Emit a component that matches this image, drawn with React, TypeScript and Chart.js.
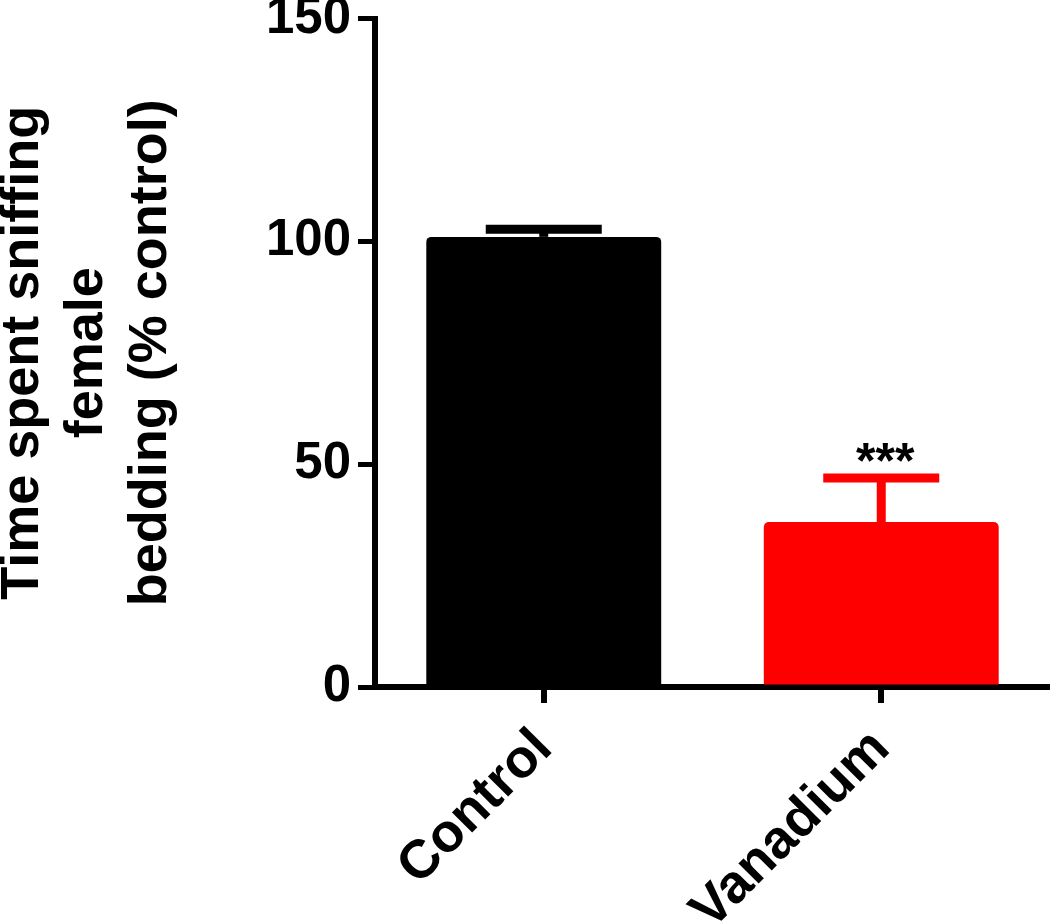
import React, { useEffect, useRef } from 'react';
import { Chart, registerables } from 'chart.js';

Chart.register(...registerables);

const categories = ['Control', 'Vanadium'];
const meanValues = [101, 37];
const errorTops = [102.7, 46.9];
const significance = ['', '***'];
const barColors = ['#000000', '#ff0000'];
const yTickValues = [0, 50, 100, 150];
const yTitleLines = ['Time spent sniffing', 'female', 'bedding (% control)'];

const FONT = '"Liberation Sans", Arial, Helvetica, sans-serif';

export default function App() {
  const ref = useRef<HTMLCanvasElement>(null);

  useEffect(() => {
    if (!ref.current) return;
    const errorPlugin = {
      id: 'errorBars',
      afterDatasetsDraw(chart: any) {
        const { ctx, scales } = chart;
        const x = scales.x;
        const y = scales.y;
        ctx.save();
        meanValues.forEach((v, i) => {
          const cx = x.getPixelForValue(i);
          const yb = y.getPixelForValue(v);
          const yt = y.getPixelForValue(errorTops[i]);
          ctx.strokeStyle = barColors[i];
          ctx.lineWidth = 9;
          ctx.lineCap = 'butt';
          ctx.beginPath();
          ctx.moveTo(cx, yb);
          ctx.lineTo(cx, yt);
          ctx.stroke();
          ctx.beginPath();
          ctx.moveTo(cx - 58, yt);
          ctx.lineTo(cx + 58, yt);
          ctx.stroke();
          if (significance[i]) {
            ctx.fillStyle = '#000';
            ctx.font = `bold 50px ${FONT}`;
            ctx.textAlign = 'center';
            ctx.textBaseline = 'alphabetic';
            ctx.fillText(significance[i], cx + 4, yt);
          }
        });
        ctx.restore();
      },
    };

    const chart = new Chart(ref.current, {
      type: 'bar',
      data: {
        labels: categories,
        datasets: [
          {
            data: meanValues,
            backgroundColor: barColors,
            borderWidth: 0,
            borderRadius: 5,
            barPercentage: 0.696,
            categoryPercentage: 1,
          },
        ],
      },
      options: {
        responsive: false,
        animation: false,
        devicePixelRatio: 1,
        layout: { padding: { top: 18.5, left: 0, right: 0, bottom: 0 } },
        plugins: {
          legend: { display: false },
          tooltip: { enabled: false },
        },
        scales: {
          x: {
            type: 'category',
            offset: true,
            grid: {
              offset: false,
              display: true,
              drawOnChartArea: false,
              drawTicks: true,
              tickLength: 16,
              tickWidth: 6,
              tickColor: '#000',
              color: '#000',
              lineWidth: 6,
            },
            border: { display: true, color: '#000', width: 6 },
            ticks: {
              autoSkip: false,
              minRotation: 45,
              maxRotation: 45,
              padding: 14,
              color: '#000',
              font: { family: FONT, size: 54, weight: 'bold' },
            },
            afterFit(scale: any) {
              scale.height = 924 - 687;
              scale.paddingLeft = 0;
              scale.paddingRight = 0;
            },
          },
          y: {
            min: 0,
            max: 150,
            grid: {
              display: true,
              drawOnChartArea: false,
              drawTicks: true,
              tickLength: 17,
              tickWidth: 5,
              tickColor: '#000',
              color: '#000',
              lineWidth: 5,
            },
            border: { display: true, color: '#000', width: 6 },
            ticks: {
              stepSize: 50,
              padding: 7,
              color: '#000',
              font: { family: FONT, size: 51, weight: 'bold' },
            },
            afterBuildTicks(scale: any) {
              scale.ticks = yTickValues.map((v) => ({ value: v }));
            },
            title: {
              display: true,
              text: yTitleLines,
              color: '#000',
              padding: { top: -9, bottom: 0 },
              font: { family: FONT, size: 54, weight: 'bold', lineHeight: 1.185 },
            },
            afterFit(scale: any) {
              scale.width = 375;
              scale.paddingTop = 0;
              scale.paddingBottom = 0;
            },
          },
        },
      },
      plugins: [errorPlugin],
    });
    return () => chart.destroy();
  }, []);

  return (
    <div style={{ position: 'absolute', left: 0, top: 0, width: 1050, height: 924, background: '#fff' }}>
      <canvas ref={ref} width={1050} height={924} style={{ display: 'block', width: 1050, height: 924 }} />
    </div>
  );
}
